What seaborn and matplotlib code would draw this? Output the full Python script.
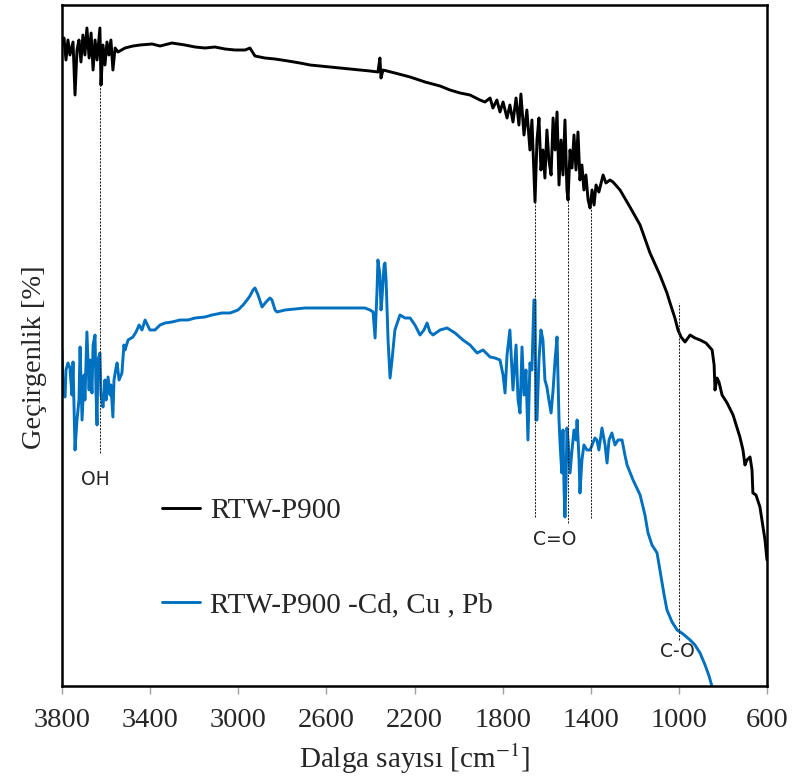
import matplotlib
matplotlib.use("Agg")
import matplotlib.pyplot as plt
import numpy as np
import pandas as pd
import seaborn as sns

# ---------------------------------------------------------------------------
# Spectra (wavenumber cm-1, transmittance a.u.)
# ---------------------------------------------------------------------------
wn_p900 = [
    3800, 3791, 3782, 3773, 3764, 3750, 3741, 3732, 3723, 3714, 3705, 3696,
    3687, 3677, 3668, 3659, 3650, 3641, 3628, 3623, 3614, 3605, 3596, 3587,
    3578, 3569, 3559, 3546, 3514, 3478, 3446, 3391, 3355, 3301, 3242, 3196,
    3151, 3106, 3060, 3015, 2969, 2947, 2924, 2879, 2833, 2774, 2720, 2674,
    2584, 2493, 2402, 2366, 2357, 2352, 2343, 2289, 2220, 2152, 2084, 2039,
    1993, 1948, 1903, 1880, 1857, 1844, 1826, 1812, 1798, 1780, 1767, 1753,
    1739, 1726, 1717, 1703, 1690, 1676, 1667, 1653, 1644, 1635, 1626, 1617,
    1608, 1599, 1590, 1580, 1571, 1562, 1553, 1544, 1535, 1526, 1517, 1508,
    1503, 1494, 1485, 1476, 1467, 1458, 1449, 1440, 1431, 1422, 1412, 1403,
    1394, 1385, 1376, 1363, 1344, 1331, 1313, 1299, 1267, 1222, 1176, 1131,
    1086, 1054, 1040, 1018, 1004, 990, 972, 949, 927, 904, 877, 849,
    840, 836, 827, 818, 804, 781, 754, 723, 709, 700, 691, 677,
    668, 664, 650, 632, 623, 618, 609, 600,
]
t_p900 = [
    64.1, 64.8, 62.6, 64.6, 63.1, 64.4, 59.1, 63.6, 64.6, 62.4, 65.1, 63.1,
    65.8, 62.8, 65.3, 61.6, 64.6, 62.6, 65.8, 60.1, 64.1, 62.1, 64.4, 63.1,
    64.6, 61.6, 63.8, 63.4, 63.8, 64.0, 64.1, 64.2, 64.0, 64.3, 64.1, 63.9,
    63.8, 63.9, 63.7, 63.6, 63.6, 63.8, 63.0, 62.8, 62.7, 62.5, 62.3, 62.1,
    61.9, 61.7, 61.5, 61.4, 62.8, 60.8, 61.6, 61.3, 60.9, 60.4, 60.0, 59.6,
    59.3, 59.1, 58.6, 58.4, 58.8, 57.8, 58.6, 57.4, 58.4, 56.8, 58.1, 56.4,
    58.8, 56.1, 59.2, 55.1, 57.6, 53.6, 56.6, 48.4, 54.6, 56.8, 51.6, 53.6,
    50.8, 55.6, 52.6, 51.1, 56.8, 53.6, 57.4, 50.1, 54.6, 51.1, 56.6, 49.6,
    48.6, 53.6, 51.8, 55.1, 51.6, 55.4, 50.6, 52.1, 49.6, 51.1, 48.6, 47.8,
    49.6, 48.1, 50.1, 49.4, 51.1, 50.3, 50.6, 50.4, 49.6, 47.9, 46.1, 43.3,
    41.1, 39.3, 38.3, 36.8, 35.6, 34.9, 34.4, 35.1, 34.8, 34.6, 34.3, 33.6,
    32.1, 29.6, 30.8, 30.4, 29.1, 28.3, 27.1, 24.9, 23.6, 22.1, 22.6, 22.9,
    21.6, 19.3, 19.1, 17.9, 16.6, 15.9, 14.6, 12.6,
]

wn_metal = [
    3800, 3795, 3786, 3782, 3773, 3764, 3755, 3750, 3741, 3732, 3723, 3718,
    3709, 3700, 3696, 3687, 3677, 3673, 3664, 3659, 3650, 3646, 3641, 3637,
    3628, 3623, 3614, 3605, 3600, 3591, 3582, 3578, 3569, 3564, 3555, 3550,
    3541, 3528, 3519, 3514, 3500, 3478, 3464, 3450, 3437, 3423, 3401, 3378,
    3355, 3332, 3301, 3264, 3228, 3196, 3151, 3119, 3074, 3037, 3001, 2978,
    2960, 2947, 2933, 2924, 2910, 2892, 2874, 2856, 2847, 2833, 2824, 2788,
    2742, 2697, 2629, 2561, 2470, 2425, 2402, 2388, 2379, 2370, 2366, 2357,
    2352, 2348, 2338, 2334, 2329, 2320, 2311, 2302, 2289, 2266, 2243, 2220,
    2198, 2175, 2157, 2143, 2130, 2116, 2084, 2052, 2016, 1980, 1948, 1916,
    1889, 1857, 1835, 1812, 1798, 1789, 1780, 1767, 1753, 1739, 1730, 1721,
    1712, 1703, 1694, 1685, 1676, 1667, 1658, 1653, 1649, 1644, 1635, 1626,
    1617, 1608, 1599, 1590, 1580, 1571, 1562, 1553, 1544, 1540, 1535, 1531,
    1526, 1521, 1517, 1512, 1508, 1503, 1494, 1485, 1476, 1467, 1462, 1453,
    1449, 1440, 1431, 1417, 1403, 1394, 1381, 1372, 1363, 1349, 1335, 1326,
    1317, 1304, 1290, 1276, 1267, 1258, 1245, 1235, 1208, 1176, 1154, 1140,
    1122, 1099, 1086, 1067, 1054, 1031, 1008, 981, 949, 927, 904, 881,
    863, 849,
]
t_metal = [
    33.6, 29.1, 28.9, 31.6, 32.3, 31.8, 29.1, 32.4, 23.6, 26.6, 28.6, 33.9,
    26.6, 31.1, 28.6, 35.4, 29.6, 32.6, 29.3, 34.1, 35.1, 29.6, 26.1, 32.6,
    33.3, 29.1, 27.9, 30.6, 28.6, 30.9, 29.1, 30.1, 26.9, 30.6, 31.8, 32.3,
    30.6, 31.3, 34.1, 33.6, 34.6, 34.9, 35.4, 36.1, 35.6, 36.6, 35.6, 35.6,
    36.1, 36.3, 36.4, 36.6, 36.6, 36.8, 36.9, 37.1, 37.3, 37.3, 37.6, 38.1,
    38.6, 39.0, 39.6, 39.8, 39.1, 37.9, 38.4, 38.8, 38.6, 37.6, 37.4, 37.6,
    37.7, 37.8, 37.8, 37.8, 37.8, 37.8, 37.6, 37.4, 34.8, 39.6, 42.6, 41.1,
    37.6, 38.6, 42.1, 42.3, 40.6, 34.6, 30.8, 32.6, 35.6, 37.1, 36.8, 36.8,
    36.1, 35.1, 35.6, 36.3, 35.4, 35.1, 35.6, 35.8, 35.3, 34.6, 34.1, 33.3,
    33.6, 32.9, 32.8, 32.6, 31.1, 29.3, 33.1, 35.6, 29.6, 34.1, 28.6, 27.3,
    33.9, 29.1, 31.6, 24.6, 32.3, 31.6, 38.6, 38.6, 26.6, 26.6, 32.6, 35.6,
    34.6, 30.6, 29.9, 28.6, 27.3, 29.6, 32.6, 34.9, 26.6, 24.6, 22.6, 21.3,
    25.6, 19.6, 16.9, 20.6, 25.8, 24.6, 21.3, 23.6, 25.6, 24.6, 26.6, 22.6,
    19.3, 22.6, 24.1, 23.6, 23.6, 24.1, 24.8, 24.6, 23.6, 25.8, 24.1, 22.3,
    24.6, 25.3, 24.1, 24.6, 24.6, 24.6, 23.1, 22.1, 20.6, 19.1, 17.1, 15.3,
    14.1, 13.3, 11.6, 9.1, 7.6, 6.4, 5.6, 5.2, 4.6, 4.1, 3.3, 2.1,
    1.0, -0.1,
]

series_names = ["RTW-P900", "RTW-P900 -Cd, Cu , Pb"]
series_colors = ["#000000", "#0070C0"]

# band markers: wavenumber, top and bottom of the dotted guide
band_wn = [3628, 1653, 1503, 1399, 1000]
band_top = [60.1, 48.4, 48.6, 47.8, 38.3]
band_bottom = [23.3, 16.9, 16.3, 16.8, 4.6]

band_labels = ["OH", "C=O", "C-O"]
band_label_wn = [3650, 1562, 1008]
band_label_t = [20.6, 14.6, 3.4]

xticks = [3800, 3400, 3000, 2600, 2200, 1800, 1400, 1000, 600]

df = pd.concat([
    pd.DataFrame({"wn": wn_p900, "t": t_p900, "sample": series_names[0]}),
    pd.DataFrame({"wn": wn_metal, "t": t_metal, "sample": series_names[1]}),
], ignore_index=True)

sns.set_style("white")
plt.rcParams["font.family"] = ["Liberation Serif", "DejaVu Serif"]
plt.rcParams["mathtext.fontset"] = "stix"

fig = plt.figure(figsize=(7.93, 7.82), dpi=100)
ax = fig.add_axes([0.0782, 0.1228, 0.889, 0.8708])

sns.lineplot(data=df, x="wn", y="t", hue="sample", hue_order=series_names,
             palette=series_colors, sort=False, estimator=None,
             linewidth=2.1, ax=ax)

ax.vlines(band_wn, band_bottom, band_top, colors="#222222",
          linestyles=(0, (2, 1.2)), linewidth=0.75)
for lab, x, y in zip(band_labels, band_label_wn, band_label_t):
    ax.text(x, y, lab, ha="center", va="center", fontsize=13.5,
            family="DejaVu Sans")

ax.set_xlim(3800, 600)
ax.set_ylim(0, 68.1)
ax.set_xticks(xticks)
ax.set_yticks([])
ax.tick_params(axis="x", direction="out", length=6, width=1, color="#a0a0a0",
               labelsize=20.5, pad=10, bottom=True)

for sp in ax.spines.values():
    sp.set_visible(True)
    sp.set_color("black")
    sp.set_linewidth(1.8)

ax.set_xlabel(r"Dalga sayısı [cm$^{\mathrm{-1}}$]", fontsize=21, labelpad=6)
ax.set_ylabel("Geçirgenlik [%]", fontsize=20.5)
ax.yaxis.set_label_coords(-0.022, 0.483)

ax.legend(loc="center left", bbox_to_anchor=(0.142, 0.188), frameon=False,
          fontsize=21, handlelength=1.3, handletextpad=0.35, labelspacing=2.3,
          borderpad=0, borderaxespad=0)

fig.savefig("out.png", dpi=100)
